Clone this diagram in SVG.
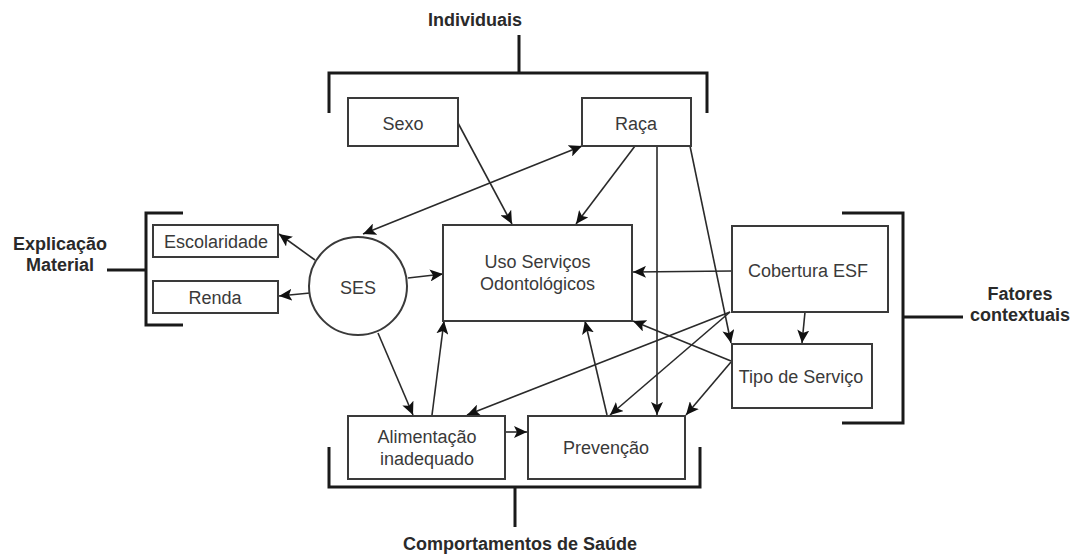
<svg xmlns="http://www.w3.org/2000/svg" width="1078" height="558" viewBox="0 0 1078 558">
<style>
.box{fill:#fff;stroke:#3a3a3a;stroke-width:2}
.lbl{font-family:"Liberation Sans",Arial,sans-serif;font-size:18px;fill:#3a3a3a;text-anchor:middle}
.hdr{font-family:"Liberation Sans",Arial,sans-serif;font-size:18px;font-weight:bold;fill:#2a2a2a;text-anchor:middle}
.br{fill:none;stroke:#1a1a1a;stroke-width:3}
.con{fill:none;stroke:#2a2a2a;stroke-width:1.6;marker-end:url(#ah)}
</style>
<defs>
<marker id="ah" markerUnits="userSpaceOnUse" markerWidth="14" markerHeight="12" refX="13" refY="6" orient="auto-start-reverse">
<path d="M0,0 L13,6 L0,12 L3,6 Z" fill="#111"/>
</marker>
</defs>
<rect width="1078" height="558" fill="#fff"/>

<g id="brackets">
<path class="br" d="M329,113 V73 H707 V113 M519,73 V35"/>
<path class="br" d="M183,213 H146 V325 H183 M146,270 H107"/>
<path class="br" d="M842,213 H903 V423 H842 M903,317 H963"/>
<path class="br" d="M329,447 V487 H700 V447 M515,487 V527"/>
</g>

<g id="groupLabels">
<text class="hdr" x="475" y="26">Individuais</text>
<text class="hdr" x="60" y="250">Explicação</text>
<text class="hdr" x="60" y="271">Material</text>
<text class="hdr" x="1020" y="300">Fatores</text>
<text class="hdr" x="1020" y="321">contextuais</text>
<text class="hdr" x="520" y="550">Comportamentos de Saúde</text>
</g>

<g id="connectors">
<path class="con" d="M458,123 L512,224"/>
<path class="con" d="M635,146 L576,224"/>
<path class="con" style="marker-start:url(#ah)" d="M363,234 L582,146"/>
<path class="con" d="M657,146 L657,415"/>
<path class="con" d="M690,146 L731,343"/>
<path class="con" d="M732,271 L633,272"/>
<path class="con" d="M805,312 L802,343"/>
<path class="con" d="M730,312 L467,415"/>
<path class="con" d="M730,312 L610,415"/>
<path class="con" d="M731,361 L633,321"/>
<path class="con" d="M731,362 L686,415"/>
<path class="con" d="M607,415 L585,321"/>
<path class="con" d="M432,415 L444,321"/>
<path class="con" d="M378,333 L413,415"/>
<path class="con" d="M315,260 L279,234"/>
<path class="con" d="M310,293 L279,296"/>
<path class="con" d="M408,278 L443,274"/>
<path class="con" d="M505,432 L527,432"/>
</g>

<g id="sexo"><rect class="box" x="348" y="98" width="110" height="48"/><text class="lbl" x="403" y="130">Sexo</text></g>
<g id="raca"><rect class="box" x="582" y="98" width="109" height="48"/><text class="lbl" x="636" y="130">Raça</text></g>
<g id="escolaridade"><rect class="box" x="153" y="225" width="125" height="32"/><text class="lbl" x="216" y="247.5">Escolaridade</text></g>
<g id="renda"><rect class="box" x="153" y="281" width="125" height="32"/><text class="lbl" x="215" y="303.5">Renda</text></g>
<g id="ses"><circle class="box" cx="358" cy="286" r="49"/><text class="lbl" x="358" y="294">SES</text></g>
<g id="uso"><rect class="box" x="443" y="225" width="189" height="96"/><text class="lbl" x="537.5" y="268">Uso Serviços</text><text class="lbl" x="537.5" y="290">Odontológicos</text></g>
<g id="cobertura"><rect class="box" x="732" y="226" width="156" height="86"/><text class="lbl" x="808" y="277">Cobertura ESF</text></g>
<g id="tipo"><rect class="box" x="732" y="344" width="140" height="64"/><text class="lbl" x="801" y="383">Tipo de Serviço</text></g>
<g id="alimentacao"><rect class="box" x="348" y="416" width="157" height="63"/><text class="lbl" x="427" y="443">Alimentação</text><text class="lbl" x="427" y="465">inadequado</text></g>
<g id="prevencao"><rect class="box" x="528" y="416" width="157" height="63"/><text class="lbl" x="606" y="454">Prevenção</text></g>
</svg>
